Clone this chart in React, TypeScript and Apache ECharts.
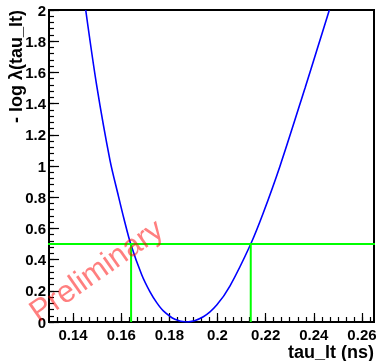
import React, { useEffect, useRef } from "react";
import * as echarts from "echarts";

// -log likelihood scan of tau_lt (x in ns, y = -log lambda)
const scanTau = [
  0.14525, 0.14982, 0.15534, 0.15879, 0.16116, 0.16394, 0.16851, 0.17196,
  0.17474, 0.17749, 0.1823, 0.18721, 0.19411, 0.19967, 0.2052, 0.2138,
  0.21903, 0.22597, 0.23636, 0.24122, 0.24645,
];
const scanNll = [
  2.0, 1.515, 1.036, 0.81, 0.66, 0.5, 0.303, 0.193, 0.124, 0.071, 0.017, 0.0,
  0.034, 0.109, 0.232, 0.5, 0.70, 1.0, 1.5, 1.74, 2.0,
];

// 1-sigma level and its crossing points
const sigmaLevel = 0.5;
const sigmaLow = 0.1641;
const sigmaHigh = 0.2138;
const levelLineSpan = [0.113, 0.268];

// axis ranges and tick labels
const xRange = [0.13, 0.265];
const yRange = [0, 2];
const xTickLabels = [0.14, 0.16, 0.18, 0.2, 0.22, 0.24, 0.26];
const xMinorPerMajor = 6;
const yMajorStep = 0.2;
const yMinorStep = 0.04;

const xTitle = "tau_lt (ns)";
const yTitle = "- log \u03bb(tau_lt)";
const watermark = "Preliminary";

export default function App() {
  const ref = useRef<HTMLDivElement>(null);

  useEffect(() => {
    if (!ref.current) return;
    const chart = echarts.init(ref.current, undefined, { renderer: "svg" });

    const step = (xTickLabels[1] - xTickLabels[0]) / xMinorPerMajor;
    const xMinor: number[] = [];
    for (let k = 1; ; k++) {
      const v = +(xTickLabels[0] - 3 * step + k * step).toFixed(6);
      if (v >= xRange[1]) break;
      if (v > xRange[0]) xMinor.push(v);
    }

    const font = "'Liberation Sans', Arial, Helvetica, sans-serif";
    const scan = scanTau.map((t, i) => [t, scanNll[i]]);

    chart.setOption({
      animation: false,
      grid: {
        left: 49,
        right: 7,
        top: 10,
        bottom: 39,
        show: true,
        borderColor: "#000",
        borderWidth: 2,
        backgroundColor: "transparent",
      },
      xAxis: [
        {
          type: "value",
          min: xRange[0],
          max: xRange[1],
          axisLine: { show: true, onZero: false, lineStyle: { color: "#000", width: 2 } },
          axisTick: {
            show: true,
            inside: true,
            length: 9,
            customValues: xTickLabels,
            lineStyle: { color: "#000", width: 1.2 },
          },
          axisLabel: {
            customValues: xTickLabels,
            color: "#000",
            fontFamily: font,
            fontWeight: "bold",
            fontSize: 15,
            lineHeight: 15,
            margin: 5,
          },
          splitLine: { show: false },
        },
        {
          type: "value",
          min: xRange[0],
          max: xRange[1],
          position: "bottom",
          axisLine: { show: false },
          axisTick: {
            show: true,
            inside: true,
            length: 5,
            customValues: xMinor,
            lineStyle: { color: "#000", width: 1.2 },
          },
          axisLabel: { show: false },
          splitLine: { show: false },
        },
      ],
      yAxis: [
        {
          type: "value",
          min: yRange[0],
          max: yRange[1],
          interval: yMajorStep,
          axisLine: { show: true, onZero: false, lineStyle: { color: "#000", width: 2 } },
          axisTick: {
            show: true,
            inside: true,
            length: 10,
            lineStyle: { color: "#000", width: 1.2 },
          },
          axisLabel: {
            color: "#000",
            fontFamily: font,
            fontWeight: "bold",
            fontSize: 15,
            margin: 3,
          },
          splitLine: { show: false },
        },
        {
          type: "value",
          min: yRange[0],
          max: yRange[1],
          interval: yMinorStep,
          position: "left",
          axisLine: { show: false },
          axisTick: {
            show: true,
            inside: true,
            length: 5,
            lineStyle: { color: "#000", width: 1.2 },
          },
          axisLabel: { show: false },
          splitLine: { show: false },
        },
      ],
      series: [
        {
          type: "line",
          data: scan,
          smooth: 0.3,
          showSymbol: false,
          lineStyle: { color: "#0000ff", width: 1.6 },
          z: 3,
        },
        {
          type: "line",
          data: [
            [levelLineSpan[0], sigmaLevel],
            [levelLineSpan[1], sigmaLevel],
          ],
          clip: false,
          showSymbol: false,
          lineStyle: { color: "#00ff00", width: 2 },
          z: 4,
        },
        {
          type: "line",
          data: [
            [sigmaLow, 0],
            [sigmaLow, sigmaLevel],
          ],
          showSymbol: false,
          lineStyle: { color: "#00ff00", width: 2 },
          z: 4,
        },
        {
          type: "line",
          data: [
            [sigmaHigh, 0],
            [sigmaHigh, sigmaLevel],
          ],
          showSymbol: false,
          lineStyle: { color: "#00ff00", width: 2 },
          z: 4,
        },
      ],
      graphic: [
        {
          type: "text",
          x: 374,
          y: 343,
          style: {
            text: xTitle,
            fill: "#000",
            font: `bold 18px ${font}`,
            textAlign: "right",
            textVerticalAlign: "top",
          },
        },
        {
          type: "text",
          x: 16,
          y: 10,
          rotation: Math.PI / 2,
          style: {
            text: yTitle,
            fill: "#000",
            font: `bold 18px ${font}`,
            textAlign: "right",
            textVerticalAlign: "middle",
          },
        },
        {
          type: "text",
          x: 96,
          y: 270,
          rotation: 0.61,
          z: 10,
          style: {
            text: watermark,
            fill: "rgba(255,0,0,0.5)",
            font: `31px ${font}`,
            textAlign: "center",
            textVerticalAlign: "middle",
          },
        },
      ],
    });

    return () => chart.dispose();
  }, []);

  return (
    <div
      ref={ref}
      style={{ position: "fixed", left: 0, top: 0, width: 381, height: 361 }}
    />
  );
}
